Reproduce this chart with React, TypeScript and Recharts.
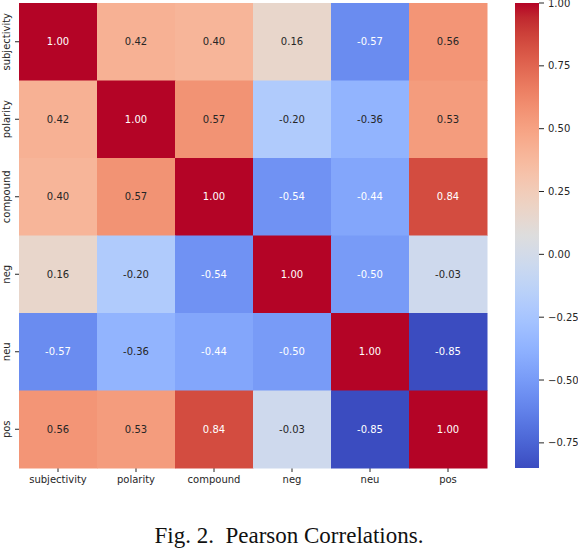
import {
  ScatterChart, Scatter, XAxis, YAxis, BarChart, Bar,
} from 'recharts'

const labels = ['subjectivity', 'polarity', 'compound', 'neg', 'neu', 'pos']

const subjectivity = [1.0, 0.42, 0.4, 0.16, -0.57, 0.56]
const polarity = [0.42, 1.0, 0.57, -0.2, -0.36, 0.53]
const compound = [0.4, 0.57, 1.0, -0.54, -0.44, 0.84]
const neg = [0.16, -0.2, -0.54, 1.0, -0.5, -0.03]
const neu = [-0.57, -0.36, -0.44, -0.5, 1.0, -0.85]
const pos = [0.56, 0.53, 0.84, -0.03, -0.85, 1.0]

const rows = [subjectivity, polarity, compound, neg, neu, pos]

const cbTicks = [-0.75, -0.5, -0.25, 0, 0.25, 0.5, 0.75, 1.0]
const V_MIN = -0.85
const V_MAX = 1.0

// coolwarm (Moreland) control points
const coolwarm: [number, number, number][] = [
  [59, 76, 192], [68, 90, 204], [77, 104, 215], [87, 117, 225], [98, 130, 234],
  [108, 142, 241], [119, 154, 247], [130, 165, 251], [141, 176, 254], [152, 185, 255],
  [163, 194, 255], [174, 201, 253], [184, 208, 249], [194, 213, 244], [204, 217, 238],
  [213, 219, 230], [221, 221, 221], [229, 216, 209], [236, 211, 197], [241, 204, 185],
  [245, 196, 173], [247, 187, 160], [247, 177, 148], [247, 166, 135], [244, 154, 123],
  [241, 141, 111], [236, 127, 99], [229, 112, 88], [222, 96, 77], [213, 80, 66],
  [203, 62, 56], [192, 40, 47], [180, 4, 38],
]

function rgbAt(t: number): [number, number, number] {
  const n = coolwarm.length - 1
  const p = Math.max(0, Math.min(1, t)) * n
  const i = Math.min(n - 1, Math.floor(p))
  const f = p - i
  const a = coolwarm[i]
  const b = coolwarm[i + 1]
  return [0, 1, 2].map((k) => a[k] + (b[k] - a[k]) * f) as [number, number, number]
}

function colorFor(v: number) {
  const [r, g, b] = rgbAt((v - V_MIN) / (V_MAX - V_MIN))
  return `rgb(${Math.round(r)},${Math.round(g)},${Math.round(b)})`
}

function textColorFor(v: number) {
  const lin = rgbAt((v - V_MIN) / (V_MAX - V_MIN)).map((c) => {
    const s = c / 255
    return s <= 0.03928 ? s / 12.92 : Math.pow((s + 0.055) / 1.055, 2.4)
  })
  const lum = 0.2126 * lin[0] + 0.7152 * lin[1] + 0.0722 * lin[2]
  return lum > 0.408 ? '#262626' : '#ffffff'
}

const cells = rows.flatMap((row, r) =>
  row.map((v, c) => ({ x: c + 0.5, y: r + 0.5, v })),
)

const centers = labels.map((_, i) => i + 0.5)

const FONT = 'DejaVu Sans, sans-serif'
const CHART_W = 578
const CHART_H = 550
const PLOT_W = 468
const PLOT_H = 465
const CELL_W = PLOT_W / labels.length
const CELL_H = PLOT_H / labels.length

// eslint-disable-next-line @typescript-eslint/no-explicit-any
function CellShape({ cx, cy, payload }: any) {
  return (
    <g>
      <rect
        x={cx - CELL_W / 2}
        y={cy - CELL_H / 2}
        width={CELL_W + 0.5}
        height={CELL_H + 0.5}
        fill={colorFor(payload.v)}
      />
      <text
        x={cx}
        y={cy}
        textAnchor="middle"
        dominantBaseline="central"
        fontFamily={FONT}
        fontSize={10}
        fill={textColorFor(payload.v)}
      >
        {payload.v.toFixed(2)}
      </text>
    </g>
  )
}

// eslint-disable-next-line @typescript-eslint/no-explicit-any
function RowTick({ x, y, payload }: any) {
  return (
    <g transform={`translate(${x - 5.5},${y})`}>
      <text transform="rotate(-90)" textAnchor="middle" fontFamily={FONT} fontSize={10} fill="#262626">
        {labels[Math.floor(payload.value)]}
      </text>
    </g>
  )
}

const cbData = [{ name: 'cb', range: [V_MIN, V_MAX] }]

export default function App() {
  return (
    <div style={{ position: 'absolute', left: 0, top: 0, width: CHART_W, height: CHART_H, background: '#fff' }}>
      <ScatterChart width={CHART_W} height={CHART_H} margin={{ top: 3, right: 91, bottom: 62, left: 0 }}>
        <XAxis
          type="number"
          dataKey="x"
          domain={[0, labels.length]}
          ticks={centers}
          tickFormatter={(v: number) => labels[Math.floor(v)]}
          interval={0}
          height={20}
          axisLine={false}
          tickSize={4}
          tickMargin={4}
          tickLine={{ stroke: '#262626' }}
          tick={{ fontSize: 10, fontFamily: FONT, fill: '#262626' }}
        />
        <YAxis
          type="number"
          dataKey="y"
          domain={[0, labels.length]}
          reversed
          ticks={centers}
          interval={0}
          width={19}
          axisLine={false}
          tickSize={4}
          tickMargin={0}
          tickLine={{ stroke: '#262626' }}
          tick={<RowTick />}
        />
        <Scatter data={cells} shape={<CellShape />} isAnimationActive={false} />
      </ScatterChart>

      <div style={{ position: 'absolute', left: 515, top: 0 }}>
        <BarChart width={63} height={CHART_H} data={cbData} barCategoryGap={0}
          margin={{ top: 3, right: 0, bottom: 82, left: 0 }}>
          <defs>
            <linearGradient id="cbGrad" x1="0" y1="1" x2="0" y2="0">
              {coolwarm.map((c, i) => (
                <stop key={i} offset={i / (coolwarm.length - 1)} stopColor={`rgb(${c[0]},${c[1]},${c[2]})`} />
              ))}
            </linearGradient>
          </defs>
          <XAxis dataKey="name" hide />
          <YAxis
            orientation="right"
            type="number"
            domain={[V_MIN, V_MAX]}
            ticks={cbTicks}
            interval={0}
            width={39}
            axisLine={false}
            tickSize={5}
            tickMargin={4}
            tickLine={{ stroke: '#262626' }}
            tickFormatter={(v: number) => v.toFixed(2).replace('-', '\u2212')}
            tick={{ fontSize: 10, fontFamily: FONT, fill: '#262626', textAnchor: 'start' }}
            allowDataOverflow
          />
          <Bar dataKey="range" fill="url(#cbGrad)" isAnimationActive={false} />
        </BarChart>
      </div>

      <div
        style={{
          position: 'absolute', left: 0, top: 524, width: CHART_W - 0, textAlign: 'center',
          fontFamily: '"Liberation Serif", "Times New Roman", serif', fontSize: 23,
          lineHeight: '23px', whiteSpace: 'pre', color: '#111', paddingLeft: 0,
        }}
      >
        <span style={{ position: 'relative', left: 0 }}>{'Fig. 2.  Pearson Correlations.'}</span>
      </div>
    </div>
  )
}
